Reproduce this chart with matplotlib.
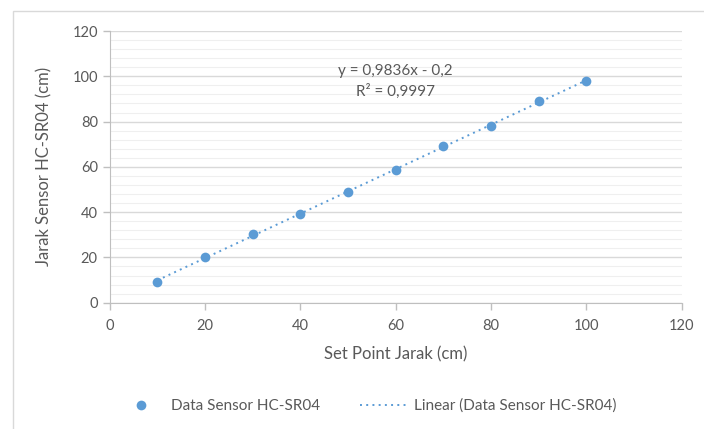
import matplotlib.pyplot as plt
import numpy as np
from matplotlib.patches import Rectangle
from matplotlib.lines import Line2D

set_point = [10, 20, 30, 40, 50, 60, 70, 80, 90, 100]
sensor = [9.1, 20.3, 30.2, 39.2, 49.0, 58.4, 69.3, 78.1, 89.1, 97.9]
x_ticks = [0, 20, 40, 60, 80, 100, 120]
y_ticks = [0, 20, 40, 60, 80, 100, 120]

blue = '#5B9BD5'
grey_txt = '#595959'
axis_col = '#bfbfbf'

plt.rcParams['font.family'] = ['Lato', 'DejaVu Sans']

fig = plt.figure(figsize=(7.04, 4.29), dpi=100)
ax = fig.add_axes([0.1557, 0.2944, 0.8126, 0.6333])

# chart border (partially cropped in the original)
fig.patches.append(Rectangle((13 / 704, -0.05), 1.1, 1 - 11 / 429 + 0.05,
                             transform=fig.transFigure, fill=False,
                             edgecolor='#d9d9d9', linewidth=1))

# trendline
coef = np.polyfit(set_point, sensor, 1)
xs = np.array([set_point[0], set_point[-1]])
ax.plot(xs, np.polyval(coef, xs), linestyle=(0, (1, 2.2)), color=blue, linewidth=1.4, zorder=3)
ax.plot(set_point, sensor, 'o', color=blue, markersize=7, markeredgewidth=0, zorder=4)

ax.set_xlim(0, 120)
ax.set_ylim(0, 120)
ax.set_xticks(x_ticks)
ax.set_yticks(y_ticks)
ax.set_yticks(np.arange(0, 121, 4), minor=True)
ax.grid(axis='y', which='major', color='#d9d9d9', linewidth=1)
ax.grid(axis='y', which='minor', color='#efefef', linewidth=0.8)
ax.set_axisbelow(True)
ax.tick_params(axis='both', which='major', colors=axis_col, labelcolor=grey_txt,
               labelsize=10.5, length=5, width=1, direction='out')
ax.tick_params(axis='both', which='minor', length=0)
ax.tick_params(axis='x', pad=7)
for s in ['top', 'right']:
    ax.spines[s].set_visible(False)
for s in ['left', 'bottom']:
    ax.spines[s].set_color(axis_col)

ax.set_xlabel('Set Point Jarak (cm)', fontsize=12, color=grey_txt, labelpad=9)
ax.set_ylabel('Jarak Sensor HC-SR04 (cm)', fontsize=12, color=grey_txt, labelpad=14)

ax.text(60, 102.5, 'y = 0,9836x - 0,2', ha='center', va='center', fontsize=11, color=grey_txt)
ax.text(60, 93.2, 'R² = 0,9997', ha='center', va='center', fontsize=11, color=grey_txt)

handles = [Line2D([], [], marker='o', linestyle='none', color=blue, markersize=7, markeredgewidth=0),
           Line2D([], [], linestyle=(0, (1, 2.2)), color=blue, linewidth=1.4)]
fig.legend(handles, ['Data Sensor HC-SR04', 'Linear (Data Sensor HC-SR04)'],
           loc='center left', bbox_to_anchor=(0.146, 1 - 406 / 429), ncol=2, frameon=False,
           fontsize=11, labelcolor=grey_txt, columnspacing=2.6, handlelength=3.2,
           handletextpad=0.35)

fig.savefig('out.png', dpi=100)
